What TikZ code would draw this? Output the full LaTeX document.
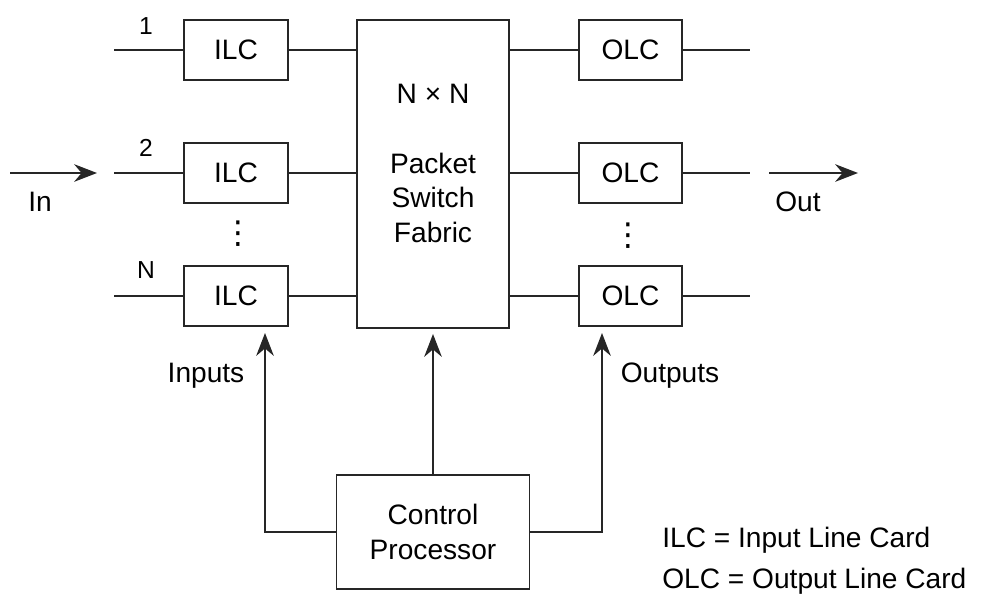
\documentclass[tikz,border=0pt]{standalone}
\usepackage{fontspec}
\setmainfont{Liberation Sans}
\newfontfamily\symfont{DejaVu Sans}
\usetikzlibrary{arrows.meta}

\begin{document}
\begin{tikzpicture}[
    card/.style={draw=black!85,line width=1.1pt,minimum width=2.07cm,minimum height=1.2cm,inner sep=0pt,font=\fontsize{16}{19.8}\selectfont},
    fabric/.style={draw=black!85,line width=1.1pt,minimum width=3.04cm,minimum height=6.16cm,inner sep=0pt},
    ctrlbox/.style={draw=black!85,line width=1.1pt,minimum width=3.86cm,minimum height=2.28cm,align=center,inner sep=0pt,font=\fontsize{16}{19.8}\selectfont},
    lbl/.style={inner sep=0pt,font=\fontsize{16}{19.8}\selectfont},
    num/.style={inner sep=0pt,font=\fontsize{14}{16}\selectfont},
    dots/.style={inner sep=0pt,font=\symfont\fontsize{18}{20}\selectfont},
    wire/.style={draw=black!85,line width=1.1pt},
    arr/.style={wire,-{Stealth[length=13pt,width=10pt]}}
]
\useasboundingbox (0,0) rectangle (19.64,-11.92);

% line cards
\node[card] (ilc1) at (4.72,-1.0)  {ILC};
\node[card] (ilc2) at (4.72,-3.46) {ILC};
\node[card] (ilcN) at (4.72,-5.92) {ILC};
\node[card] (olc1) at (12.61,-1.0)  {OLC};
\node[card] (olc2) at (12.61,-3.46) {OLC};
\node[card] (olcN) at (12.61,-5.92) {OLC};

% switch fabric and control
\node[fabric] (sw) at (8.66,-3.48) {};
\node[lbl,align=center] (swtext) at (8.66,-3.27) {N × N\\[19.8pt]Packet\\Switch\\Fabric};
\node[ctrlbox] (ctrl) at (8.66,-10.64) {Control\\Processor};

% port labels
\node[num] (p1) at (2.92,-0.52) {1};
\node[num] (p2) at (2.92,-2.96) {2};
\node[num] (pN) at (2.92,-5.40) {N};
\node[dots] (idots) at (4.76,-4.68) {⋮};
\node[dots] (odots) at (12.56,-4.72) {⋮};

\node[lbl] (inlbl)  at (0.8,-4.04)   {In};
\node[lbl] (outlbl) at (15.96,-4.04) {Out};
\node[lbl] (inputs)  at (4.12,-7.52) {Inputs};
\node[lbl] (outputs) at (13.4,-7.52) {Outputs};
\node[lbl,anchor=west] (keyi) at (13.24,-10.8)  {ILC = Input Line Card};
\node[lbl,anchor=west] (keyo) at (13.24,-11.62) {OLC = Output Line Card};

% free ends
\coordinate (in1) at (2.28,-1.0);
\coordinate (in2) at (2.28,-3.46);
\coordinate (inN) at (2.28,-5.92);
\coordinate (out1) at (15.0,-1.0);
\coordinate (out2) at (15.0,-3.46);
\coordinate (outN) at (15.0,-5.92);
\coordinate (inA) at (0.2,-3.46);
\coordinate (inB) at (1.94,-3.46);
\coordinate (outA) at (15.38,-3.46);
\coordinate (outB) at (17.16,-3.46);
\coordinate (ictl) at (5.3,-6.66);
\coordinate (octl) at (12.04,-6.66);

\draw[wire] (in1) -- (ilc1);
\draw[wire] (in2) -- (ilc2);
\draw[wire] (inN) -- (ilcN);
\draw[wire] (ilc1) -- (ilc1 -| sw.west);
\draw[wire] (ilc2) -- (ilc2 -| sw.west);
\draw[wire] (ilcN) -- (ilcN -| sw.west);
\draw[wire] (olc1 -| sw.east) -- (olc1);
\draw[wire] (olc2 -| sw.east) -- (olc2);
\draw[wire] (olcN -| sw.east) -- (olcN);
\draw[wire] (olc1) -- (out1);
\draw[wire] (olc2) -- (out2);
\draw[wire] (olcN) -- (outN);

\draw[arr] (inA) -- (inB);
\draw[arr] (outA) -- (outB);
\draw[arr] (ctrl.west) -| (ictl);
\draw[arr] (ctrl.east) -| (octl);
\draw[arr,shorten >=0.1cm] (ctrl.north) -- (sw.south);
\end{tikzpicture}
\end{document}
